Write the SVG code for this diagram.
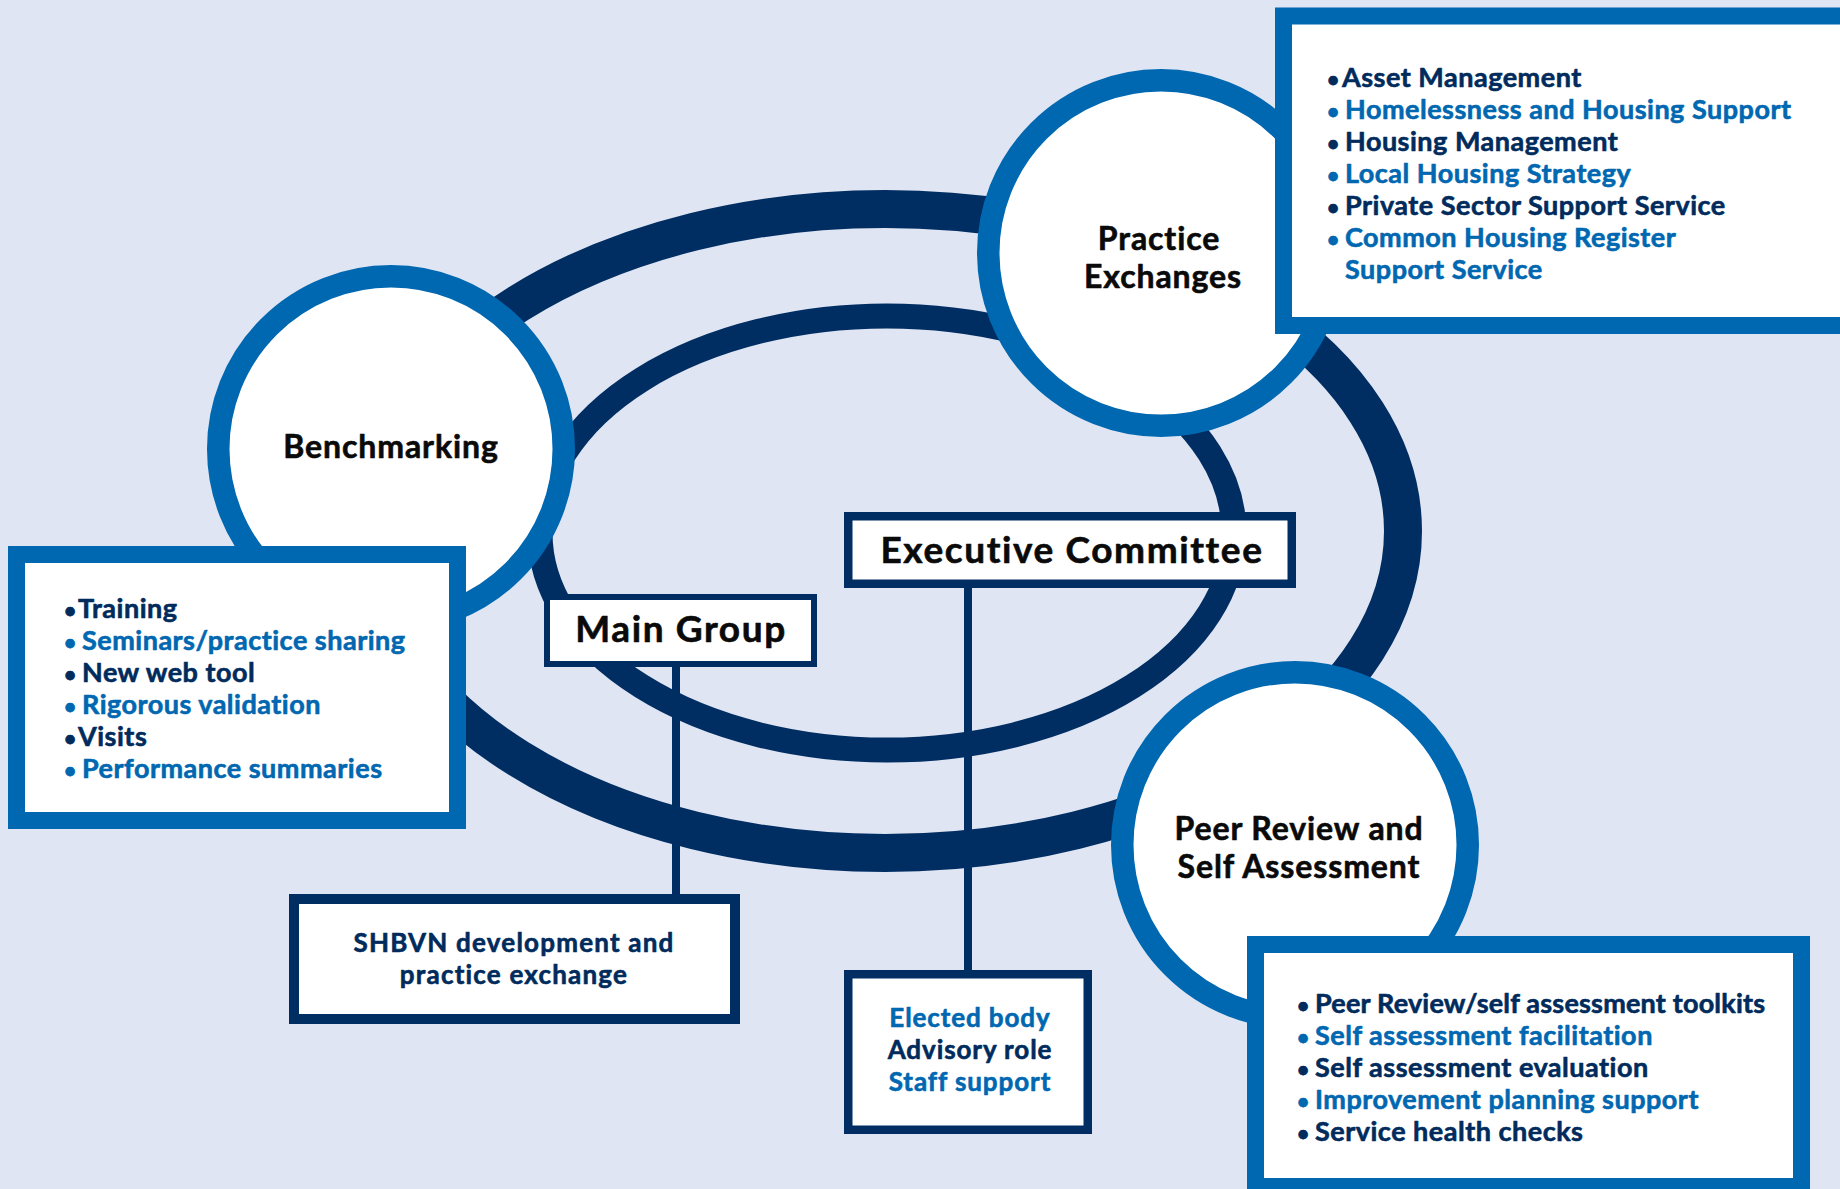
<svg xmlns="http://www.w3.org/2000/svg" width="1840" height="1189" viewBox="0 0 1840 1189">
<style>
text{font-family:Lato,"Liberation Sans",sans-serif;font-weight:700;stroke-width:0.6;stroke-linejoin:round}
.navy{fill:#002b5c;stroke:#002b5c}
.blue{fill:#0067b1;stroke:#0067b1}
.blk{fill:#0a0a0a;stroke:#0a0a0a}
.li{font-size:27px;letter-spacing:0.5px}
.tight{letter-spacing:0.2px}
.bul{font-size:21px}
.lbl{font-size:32px;letter-spacing:0.9px;text-anchor:middle}
.big{font-size:37px;letter-spacing:1.6px;text-anchor:middle}
.mid{font-size:26px;letter-spacing:0.9px;text-anchor:middle}
.sh{font-size:26px;letter-spacing:1.2px;text-anchor:middle}
.ring{fill:none;stroke:#002e62}
.circ{fill:#fff;stroke:#0067b1;stroke-width:22.5}
.bbox{fill:#fff;stroke:#0067b1;stroke-width:17}
.nbox{fill:#fff;stroke:#002e62}
.conn{stroke:#002e62;stroke-width:8;fill:none}
</style>
<rect width="1840" height="1189" fill="#dfe5f3"/>
<g id="rings">
<ellipse class="ring" cx="885" cy="531" rx="518" ry="322" stroke-width="38"/>
<ellipse class="ring" cx="887" cy="533" rx="347" ry="217" stroke-width="25"/>
</g>
<g id="connectors">
<line class="conn" x1="676" y1="665" x2="676" y2="896"/>
<line class="conn" x1="968" y1="586" x2="968" y2="972"/>
</g>
<g id="benchmarking">
<circle class="circ" cx="391" cy="449" r="172.75"/>
<text class="lbl blk" x="391" y="458">Benchmarking</text>
</g>
<g id="benchmarking-list">
<rect class="bbox" x="16.5" y="554.5" width="441" height="266" stroke-width="15.5"/>
<text class="li navy" y="618"><tspan class="bul" x="64">•</tspan><tspan x="78">Training</tspan></text>
<text class="li blue" y="650"><tspan class="bul" x="64">•</tspan><tspan x="82">Seminars/practice sharing</tspan></text>
<text class="li navy" y="682"><tspan class="bul" x="64">•</tspan><tspan x="82">New web tool</tspan></text>
<text class="li blue" y="714"><tspan class="bul" x="64">•</tspan><tspan x="82">Rigorous validation</tspan></text>
<text class="li navy" y="746"><tspan class="bul" x="64">•</tspan><tspan x="78">Visits</tspan></text>
<text class="li blue" y="778"><tspan class="bul" x="64">•</tspan><tspan x="82">Performance summaries</tspan></text>
</g>
<g id="practice-exchanges">
<circle class="circ" cx="1161" cy="253" r="172.75"/>
<text class="lbl blk" x="1159" y="250">Practice</text>
<text class="lbl blk" x="1163" y="288">Exchanges</text>
</g>
<g id="practice-list">
<rect class="bbox" x="1283.5" y="16" width="565" height="309.5"/>
<text class="li navy" y="87"><tspan class="bul" x="1327">•</tspan><tspan x="1342">Asset Management</tspan></text>
<text class="li blue" y="119"><tspan class="bul" x="1327">•</tspan><tspan x="1345">Homelessness and Housing Support</tspan></text>
<text class="li navy" y="151"><tspan class="bul" x="1327">•</tspan><tspan x="1345">Housing Management</tspan></text>
<text class="li blue" y="183"><tspan class="bul" x="1327">•</tspan><tspan x="1345">Local Housing Strategy</tspan></text>
<text class="li navy" y="215"><tspan class="bul" x="1327">•</tspan><tspan x="1345">Private Sector Support Service</tspan></text>
<text class="li blue" y="247"><tspan class="bul" x="1327">•</tspan><tspan x="1345">Common Housing Register</tspan></text>
<text class="li blue" x="1345" y="279">Support Service</text>
</g>
<g id="peer-review">
<circle class="circ" cx="1295" cy="845" r="172.75"/>
<text class="lbl blk" x="1299" y="840">Peer Review and</text>
<text class="lbl blk" x="1299" y="878">Self Assessment</text>
</g>
<g id="peer-list">
<rect class="bbox" x="1255.5" y="944.5" width="546" height="242"/>
<text class="li tight navy" y="1013"><tspan class="bul" x="1297">•</tspan><tspan x="1315">Peer Review/self assessment toolkits</tspan></text>
<text class="li blue" y="1045"><tspan class="bul" x="1297">•</tspan><tspan x="1315">Self assessment facilitation</tspan></text>
<text class="li navy" y="1077"><tspan class="bul" x="1297">•</tspan><tspan x="1315">Self assessment evaluation</tspan></text>
<text class="li blue" y="1109"><tspan class="bul" x="1297">•</tspan><tspan x="1315">Improvement planning support</tspan></text>
<text class="li navy" y="1141"><tspan class="bul" x="1297">•</tspan><tspan x="1315">Service health checks</tspan></text>
</g>
<g id="executive-committee">
<rect class="nbox" x="848.25" y="516.25" width="443.5" height="67.5" stroke-width="8.5"/>
<text class="big blk" x="1072" y="563">Executive Committee</text>
</g>
<g id="main-group">
<rect class="nbox" x="547" y="597" width="267" height="67" stroke-width="6"/>
<text class="big blk" x="681" y="642">Main Group</text>
</g>
<g id="shbvn">
<rect class="nbox" x="294" y="899" width="441" height="120" stroke-width="10"/>
<text class="sh navy" x="514" y="952">SHBVN development and</text>
<text class="sh navy" x="514" y="984">practice exchange</text>
</g>
<g id="elected">
<rect class="nbox" x="848.25" y="974.25" width="239.5" height="155.5" stroke-width="8.5"/>
<text class="mid blue" x="970" y="1027">Elected body</text>
<text class="mid navy" x="970" y="1059">Advisory role</text>
<text class="mid blue" x="970" y="1091">Staff support</text>
</g>
</svg>
